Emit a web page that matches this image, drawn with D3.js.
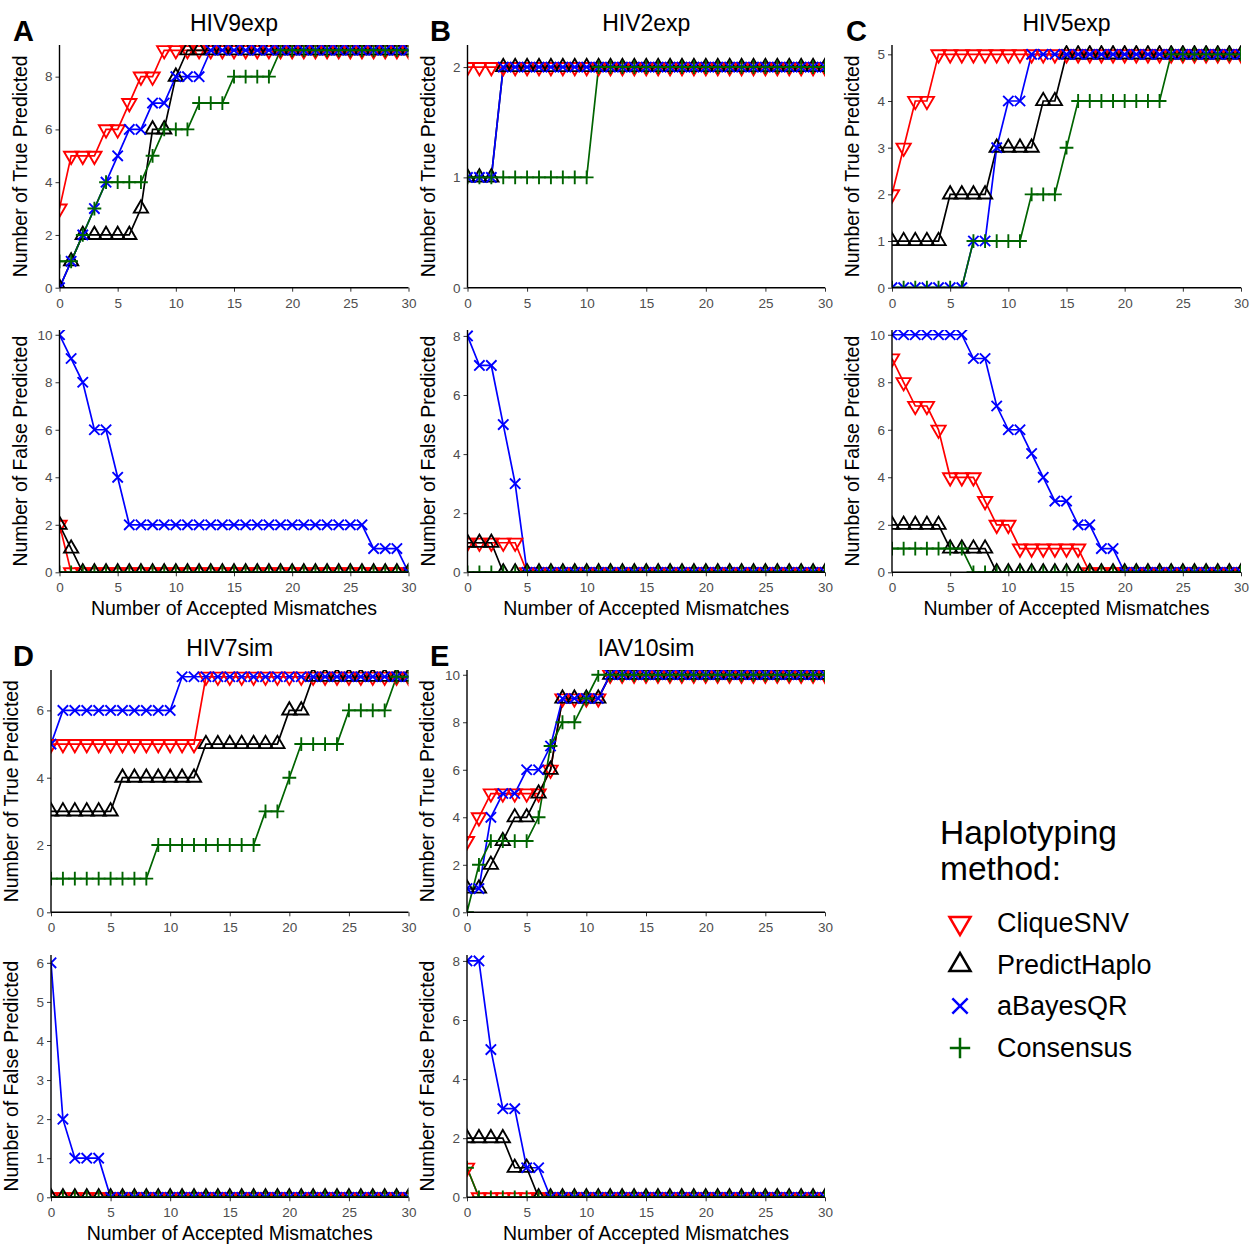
<!DOCTYPE html>
<html>
<head>
<meta charset="utf-8">
<script src="https://cdn.jsdelivr.net/npm/d3@7"></script>
<style>
  body { margin: 0; background: #fff; }
  text { font-family: Arial, 'Liberation Sans', sans-serif; }
</style>
</head>
<body>
<div id="chart"></div>
<script>
// x categories
const mismatches = [0,1,2,3,4,5,6,7,8,9,10,11,12,13,14,15,16,17,18,19,20,21,22,23,24,25,26,27,28,29,30]

const methods = ['CliqueSNV', 'PredictHaplo', 'aBayesQR', 'Consensus']
const methodColors = ['#ff0000', '#000000', '#0000ff', '#006400']
const methodShapes = ['down', 'up', 'cross', 'plus']

// ── HIV9exp ─────────────────────────────────────────────
const hiv9TrueClique    = [3,5,5,5,6,6,7,8,8,9,9,9,9,9,9,9,9,9,9,9,9,9,9,9,9,9,9,9,9,9,9]
const hiv9TruePredict   = [0,1,2,2,2,2,2,3,6,6,8,9,9,9,9,9,9,9,9,9,9,9,9,9,9,9,9,9,9,9,9]
const hiv9TrueBayes     = [0,1,2,3,4,5,6,6,7,7,8,8,8,9,9,9,9,9,9,9,9,9,9,9,9,9,9,9,9,9,9]
const hiv9TrueConsensus = [1,1,2,3,4,4,4,4,5,6,6,6,7,7,7,8,8,8,8,9,9,9,9,9,9,9,9,9,9,9,9]
const hiv9FalseClique    = [2,0,0,0,0,0,0,0,0,0,0,0,0,0,0,0,0,0,0,0,0,0,0,0,0,0,0,0,0,0,0]
const hiv9FalsePredict   = [2,1,0,0,0,0,0,0,0,0,0,0,0,0,0,0,0,0,0,0,0,0,0,0,0,0,0,0,0,0,0]
const hiv9FalseBayes     = [10,9,8,6,6,4,2,2,2,2,2,2,2,2,2,2,2,2,2,2,2,2,2,2,2,2,2,1,1,1,0]
const hiv9FalseConsensus = [0,0,0,0,0,0,0,0,0,0,0,0,0,0,0,0,0,0,0,0,0,0,0,0,0,0,0,0,0,0,0]

// ── HIV2exp ─────────────────────────────────────────────
const hiv2TrueClique    = [2,2,2,2,2,2,2,2,2,2,2,2,2,2,2,2,2,2,2,2,2,2,2,2,2,2,2,2,2,2,2]
const hiv2TruePredict   = [1,1,1,2,2,2,2,2,2,2,2,2,2,2,2,2,2,2,2,2,2,2,2,2,2,2,2,2,2,2,2]
const hiv2TrueBayes     = [1,1,1,2,2,2,2,2,2,2,2,2,2,2,2,2,2,2,2,2,2,2,2,2,2,2,2,2,2,2,2]
const hiv2TrueConsensus = [1,1,1,1,1,1,1,1,1,1,1,2,2,2,2,2,2,2,2,2,2,2,2,2,2,2,2,2,2,2,2]
const hiv2FalseClique    = [1,1,1,1,1,0,0,0,0,0,0,0,0,0,0,0,0,0,0,0,0,0,0,0,0,0,0,0,0,0,0]
const hiv2FalsePredict   = [1,1,1,0,0,0,0,0,0,0,0,0,0,0,0,0,0,0,0,0,0,0,0,0,0,0,0,0,0,0,0]
const hiv2FalseBayes     = [8,7,7,5,3,0,0,0,0,0,0,0,0,0,0,0,0,0,0,0,0,0,0,0,0,0,0,0,0,0,0]
const hiv2FalseConsensus = [0,0,0,0,0,0,0,0,0,0,0,0,0,0,0,0,0,0,0,0,0,0,0,0,0,0,0,0,0,0,0]

// ── HIV5exp ─────────────────────────────────────────────
const hiv5TrueClique    = [2,3,4,4,5,5,5,5,5,5,5,5,5,5,5,5,5,5,5,5,5,5,5,5,5,5,5,5,5,5,5]
const hiv5TruePredict   = [1,1,1,1,1,2,2,2,2,3,3,3,3,4,4,5,5,5,5,5,5,5,5,5,5,5,5,5,5,5,5]
const hiv5TrueBayes     = [0,0,0,0,0,0,0,1,1,3,4,4,5,5,5,5,5,5,5,5,5,5,5,5,5,5,5,5,5,5,5]
const hiv5TrueConsensus = [0,0,0,0,0,0,0,1,1,1,1,1,2,2,2,3,4,4,4,4,4,4,4,4,5,5,5,5,5,5,5]
const hiv5FalseClique    = [9,8,7,7,6,4,4,4,3,2,2,1,1,1,1,1,1,0,0,0,0,0,0,0,0,0,0,0,0,0,0]
const hiv5FalsePredict   = [2,2,2,2,2,1,1,1,1,0,0,0,0,0,0,0,0,0,0,0,0,0,0,0,0,0,0,0,0,0,0]
const hiv5FalseBayes     = [10,10,10,10,10,10,10,9,9,7,6,6,5,4,3,3,2,2,1,1,0,0,0,0,0,0,0,0,0,0,0]
const hiv5FalseConsensus = [1,1,1,1,1,1,1,0,0,0,0,0,0,0,0,0,0,0,0,0,0,0,0,0,0,0,0,0,0,0,0]

// ── HIV7sim ─────────────────────────────────────────────
const hiv7TrueClique    = [5,5,5,5,5,5,5,5,5,5,5,5,5,7,7,7,7,7,7,7,7,7,7,7,7,7,7,7,7,7,7]
const hiv7TruePredict   = [3,3,3,3,3,3,4,4,4,4,4,4,4,5,5,5,5,5,5,5,6,6,7,7,7,7,7,7,7,7,7]
const hiv7TrueBayes     = [5,6,6,6,6,6,6,6,6,6,6,7,7,7,7,7,7,7,7,7,7,7,7,7,7,7,7,7,7,7,7]
const hiv7TrueConsensus = [1,1,1,1,1,1,1,1,1,2,2,2,2,2,2,2,2,2,3,3,4,5,5,5,5,6,6,6,6,7,7]
const hiv7FalseClique    = [0,0,0,0,0,0,0,0,0,0,0,0,0,0,0,0,0,0,0,0,0,0,0,0,0,0,0,0,0,0,0]
const hiv7FalsePredict   = [0,0,0,0,0,0,0,0,0,0,0,0,0,0,0,0,0,0,0,0,0,0,0,0,0,0,0,0,0,0,0]
const hiv7FalseBayes     = [6,2,1,1,1,0,0,0,0,0,0,0,0,0,0,0,0,0,0,0,0,0,0,0,0,0,0,0,0,0,0]
const hiv7FalseConsensus = [0,0,0,0,0,0,0,0,0,0,0,0,0,0,0,0,0,0,0,0,0,0,0,0,0,0,0,0,0,0,0]

// ── IAV10sim ────────────────────────────────────────────
const iav10TrueClique    = [3,4,5,5,5,5,5,6,9,9,9,9,10,10,10,10,10,10,10,10,10,10,10,10,10,10,10,10,10,10,10]
const iav10TruePredict   = [1,1,2,3,4,4,5,6,9,9,9,9,10,10,10,10,10,10,10,10,10,10,10,10,10,10,10,10,10,10,10]
const iav10TrueBayes     = [1,1,4,5,5,6,6,7,9,9,9,9,10,10,10,10,10,10,10,10,10,10,10,10,10,10,10,10,10,10,10]
const iav10TrueConsensus = [0,2,3,3,3,3,4,7,8,8,9,10,10,10,10,10,10,10,10,10,10,10,10,10,10,10,10,10,10,10,10]
const iav10FalseClique    = [1,0,0,0,0,0,0,0,0,0,0,0,0,0,0,0,0,0,0,0,0,0,0,0,0,0,0,0,0,0,0]
const iav10FalsePredict   = [2,2,2,2,1,1,0,0,0,0,0,0,0,0,0,0,0,0,0,0,0,0,0,0,0,0,0,0,0,0,0]
const iav10FalseBayes     = [8,8,5,3,3,1,1,0,0,0,0,0,0,0,0,0,0,0,0,0,0,0,0,0,0,0,0,0,0,0,0]
const iav10FalseConsensus = [1,0,0,0,0,0,0,0,0,0,0,0,0,0,0,0,0,0,0,0,0,0,0,0,0,0,0,0,0,0,0]

// y tick labels per panel
const yTicksHiv9 = { top: [0,2,4,6,8], bottom: [0,2,4,6,8,10] }
const yTicksHiv2 = { top: [0,1,2], bottom: [0,2,4,6,8] }
const yTicksHiv5 = { top: [0,1,2,3,4,5], bottom: [0,2,4,6,8,10] }
const yTicksHiv7 = { top: [0,2,4,6], bottom: [0,1,2,3,4,5,6] }
const yTicksIav10 = { top: [0,2,4,6,8,10], bottom: [0,2,4,6,8] }
const xTicks = [0,5,10,15,20,25,30]

const datasets = [
  { name: 'HIV9exp', letter: 'A', ticks: yTicksHiv9,
    top: [hiv9TrueClique, hiv9TruePredict, hiv9TrueBayes, hiv9TrueConsensus],
    bottom: [hiv9FalseClique, hiv9FalsePredict, hiv9FalseBayes, hiv9FalseConsensus] },
  { name: 'HIV2exp', letter: 'B', ticks: yTicksHiv2,
    top: [hiv2TrueClique, hiv2TruePredict, hiv2TrueBayes, hiv2TrueConsensus],
    bottom: [hiv2FalseClique, hiv2FalsePredict, hiv2FalseBayes, hiv2FalseConsensus] },
  { name: 'HIV5exp', letter: 'C', ticks: yTicksHiv5,
    top: [hiv5TrueClique, hiv5TruePredict, hiv5TrueBayes, hiv5TrueConsensus],
    bottom: [hiv5FalseClique, hiv5FalsePredict, hiv5FalseBayes, hiv5FalseConsensus] },
  { name: 'HIV7sim', letter: 'D', ticks: yTicksHiv7,
    top: [hiv7TrueClique, hiv7TruePredict, hiv7TrueBayes, hiv7TrueConsensus],
    bottom: [hiv7FalseClique, hiv7FalsePredict, hiv7FalseBayes, hiv7FalseConsensus] },
  { name: 'IAV10sim', letter: 'E', ticks: yTicksIav10,
    top: [iav10TrueClique, iav10TruePredict, iav10TrueBayes, iav10TrueConsensus],
    bottom: [iav10FalseClique, iav10FalsePredict, iav10FalseBayes, iav10FalseConsensus] },
]

// panel geometry (pixels)
const layout = [
  { x0: 59.5, x1: 408.5, top: [45, 287.7], bottom: [330, 572.3], letterX: 13, titleY: 31, letterY: 41 },
  { x0: 467.5, x1: 825, top: [45, 287.7], bottom: [330, 572.3], letterX: 430, titleY: 31, letterY: 41 },
  { x0: 892, x1: 1241, top: [45, 287.7], bottom: [330, 572.3], letterX: 846, titleY: 31, letterY: 41 },
  { x0: 51, x1: 408.5, top: [670, 912.3], bottom: [955, 1197.3], letterX: 13, titleY: 656, letterY: 666 },
  { x0: 467, x1: 825, top: [670, 912.3], bottom: [955, 1197.3], letterX: 430, titleY: 656, letterY: 666 },
]

const W = 1251, H = 1245
const svg = d3.select('#chart').append('svg').attr('width', W).attr('height', H)
const defs = svg.append('defs')

function shapePath(shape, s) {
  const w = s * 0.62, h = s * 1.07
  if (shape === 'down') return `M${-w},${-h / 3}L${w},${-h / 3}L0,${2 * h / 3}Z`
  if (shape === 'up') return `M${-w},${h / 3}L${w},${h / 3}L0,${-2 * h / 3}Z`
  if (shape === 'cross') { const r = s * 0.45; return `M${-r},${-r}L${r},${r}M${-r},${r}L${r},${-r}` }
  const r = s * 0.6
  return `M${-r},0L${r},0M0,${-r}L0,${r}`
}

let clipId = 0
function drawPanel(g, series, yTicks, x0, x1, yTop, yBottom, yLabel) {
  const yMax = d3.max(series.flat()) + 0.2
  const x = d3.scaleLinear().domain([0, 30]).range([x0, x1])
  const y = d3.scaleLinear().domain([0, yMax]).range([yBottom, yTop])

  const id = 'clip' + (clipId++)
  defs.append('clipPath').attr('id', id).append('rect')
    .attr('x', x0).attr('y', yTop).attr('width', x1 - x0).attr('height', yBottom - yTop)

  const plot = g.append('g').attr('clip-path', `url(#${id})`)
  const line = d3.line().x((d, i) => x(mismatches[i])).y(d => y(d))

  series.forEach((vals, m) => {
    plot.append('path').datum(vals)
      .attr('d', line).attr('fill', 'none')
      .attr('stroke', methodColors[m]).attr('stroke-width', 1.7)
  })
  series.forEach((vals, m) => {
    plot.append('g').selectAll('path').data(vals).join('path')
      .attr('transform', (d, i) => `translate(${x(mismatches[i])},${y(d)})`)
      .attr('d', shapePath(methodShapes[m], 11.5))
      .attr('fill', 'none').attr('stroke', methodColors[m]).attr('stroke-width', 1.9)
  })

  // axes
  const xAxis = g.append('g').attr('transform', `translate(0,${yBottom})`)
    .call(d3.axisBottom(x).tickValues(xTicks).tickFormat(d3.format('d')).tickSize(4).tickPadding(3))
  const yAxis = g.append('g').attr('transform', `translate(${x0},0)`)
    .call(d3.axisLeft(y).tickValues(yTicks).tickFormat(d3.format('d')).tickSize(4).tickPadding(3))
  ;[xAxis, yAxis].forEach(ax => {
    ax.select('.domain').remove()
    ax.selectAll('.tick line').attr('stroke', '#333333').attr('stroke-width', 1)
    ax.selectAll('.tick text').attr('fill', '#4d4d4d').attr('font-size', 13.5)
      .attr('font-family', 'Arial, Liberation Sans, sans-serif')
  })
  xAxis.selectAll('.tick text').attr('dy', '0.95em')
  g.append('line').attr('x1', x0).attr('x2', x1).attr('y1', yBottom).attr('y2', yBottom)
    .attr('stroke', '#000').attr('stroke-width', 1.4)
  g.append('line').attr('x1', x0).attr('x2', x0).attr('y1', yTop).attr('y2', yBottom)
    .attr('stroke', '#000').attr('stroke-width', 1.4)

  // y title
  g.append('text')
    .attr('transform', `translate(${x0 - 33},${(yTop + yBottom) / 2}) rotate(-90)`)
    .attr('text-anchor', 'middle').attr('font-size', 19.4).attr('fill', '#000')
    .text(yLabel)
}

datasets.forEach((ds, i) => {
  const L = layout[i]
  const g = svg.append('g')
  const cx = (L.x0 + L.x1) / 2
  g.append('text').attr('x', cx).attr('y', L.titleY)
    .attr('text-anchor', 'middle').attr('font-size', 23).text(ds.name)
  g.append('text').attr('x', L.letterX).attr('y', L.letterY)
    .attr('font-size', 29).attr('font-weight', 'bold').text(ds.letter)

  drawPanel(g, ds.top, ds.ticks.top, L.x0, L.x1, L.top[0], L.top[1], 'Number of True Predicted')
  drawPanel(g, ds.bottom, ds.ticks.bottom, L.x0, L.x1, L.bottom[0], L.bottom[1], 'Number of False Predicted')

  g.append('text').attr('x', cx).attr('y', L.bottom[1] + 43)
    .attr('text-anchor', 'middle').attr('font-size', 19.5).text('Number of Accepted Mismatches')
})

// legend
const legend = svg.append('g').attr('transform', 'translate(940,0)')
legend.append('text').attr('x', 0).attr('y', 844).attr('font-size', 33.5).text('Haplotyping')
legend.append('text').attr('x', 0).attr('y', 880).attr('font-size', 33.5).text('method:')
const legendRows = [923, 965, 1006, 1048]
methods.forEach((m, k) => {
  legend.append('path')
    .attr('transform', `translate(20,${legendRows[k]})`)
    .attr('d', shapePath(methodShapes[k], 17))
    .attr('fill', 'none').attr('stroke', methodColors[k]).attr('stroke-width', 2.5)
  legend.append('text').attr('x', 57).attr('y', legendRows[k] + 9)
    .attr('font-size', 27).text(m)
})
</script>
</body>
</html>
